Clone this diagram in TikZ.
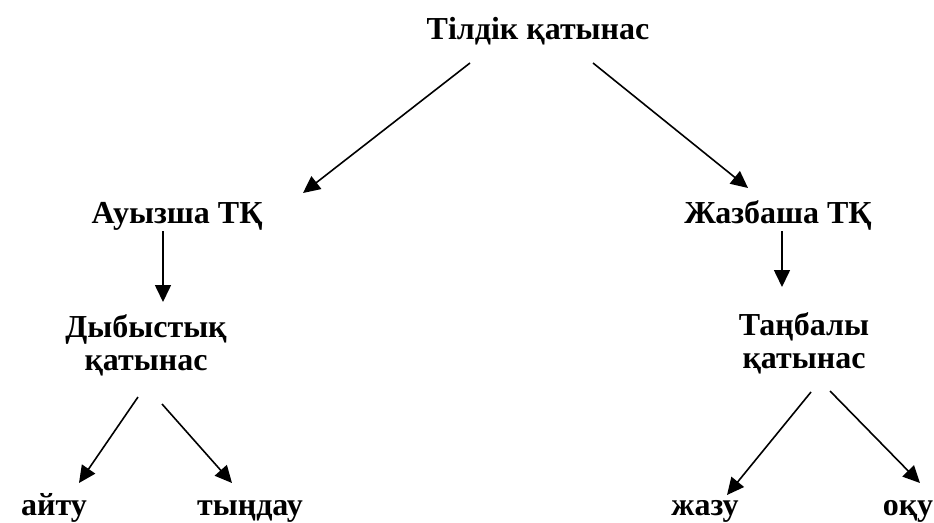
\documentclass[tikz,border=0pt]{standalone}
\usepackage{fontspec}
\setmainfont{Liberation Serif}
\usetikzlibrary{arrows.meta}
\begin{document}
\begin{tikzpicture}[x=1pt,y=-1pt,
  lbl/.style={font=\bfseries\fontsize{32}{33}\selectfont, inner sep=0pt, align=center, anchor=base},
  conn/.style={line width=1.6pt, -{Triangle[length=17pt,width=16pt]}}]
\useasboundingbox[fill=white] (0,0) rectangle (934,522);
\node[lbl] (title) at (538,39) {Тілдік қатынас};
\node[lbl] (oral) at (177,223) {Ауызша ТҚ};
\node[lbl] (written) at (778,223) {Жазбаша ТҚ};
\node[lbl] (sound) at (146,370) {Дыбыстық\\қатынас};
\node[lbl] (sign) at (804,368) {Таңбалы\\қатынас};
\node[lbl] (aitu) at (54,515) {айту};
\node[lbl] (tyndau) at (250,515) {тыңдау};
\node[lbl] (zhazu) at (705,515) {жазу};
\node[lbl] (oqu) at (908,515) {оқу};
% connector end points
\coordinate (t1) at (470,63);  \coordinate (o1) at (303,193);
\coordinate (t2) at (593,63);  \coordinate (w1) at (748,188);
\coordinate (o2) at (163,231); \coordinate (s1) at (163,302);
\coordinate (w2) at (782,231); \coordinate (g1) at (782,287);
\coordinate (s2) at (138,397); \coordinate (a1) at (79,483);
\coordinate (s3) at (162,404); \coordinate (y1) at (232,483);
\coordinate (g2) at (811,392); \coordinate (z1) at (727,495);
\coordinate (g3) at (830,391); \coordinate (q1) at (920,483);
\draw[conn] (t1) -- (o1);
\draw[conn] (t2) -- (w1);
\draw[conn] (o2) -- (s1);
\draw[conn] (w2) -- (g1);
\draw[conn] (s2) -- (a1);
\draw[conn] (s3) -- (y1);
\draw[conn] (g2) -- (z1);
\draw[conn] (g3) -- (q1);
\end{tikzpicture}
\end{document}
